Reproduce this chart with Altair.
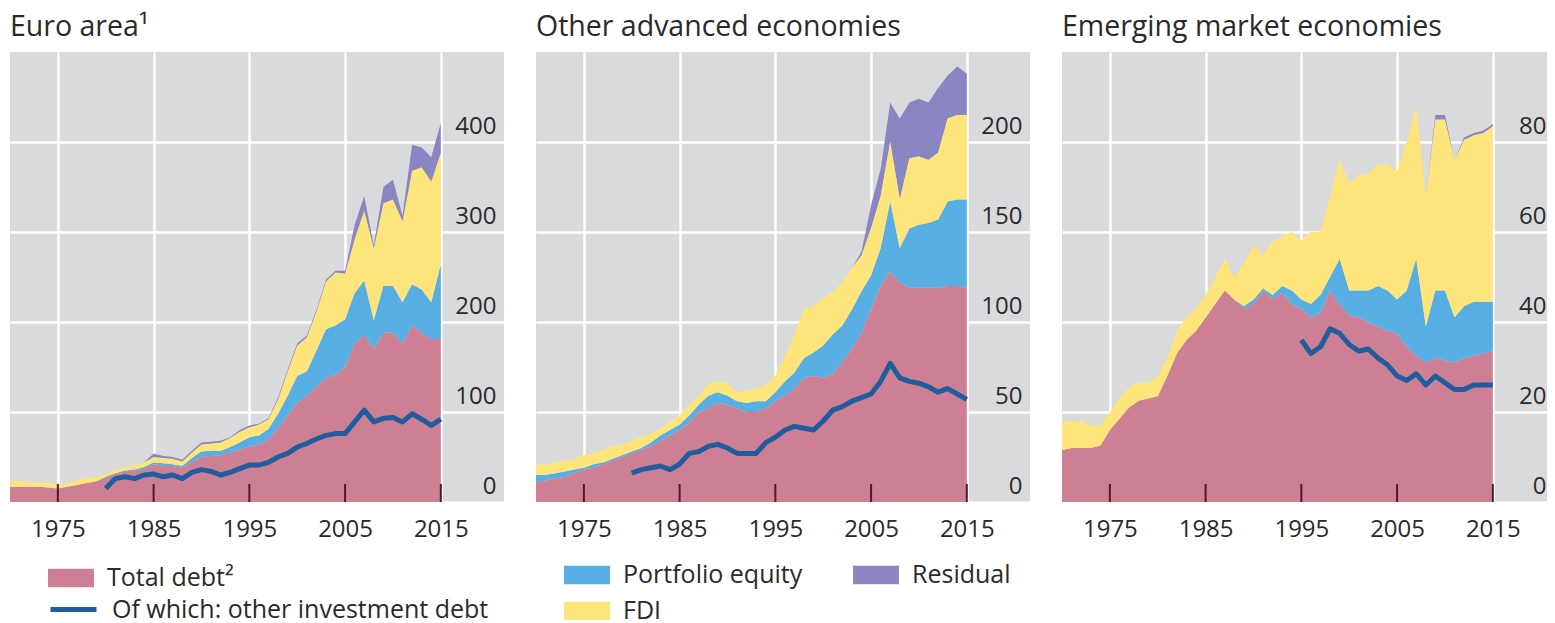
import altair as alt
import pandas as pd

years = list(range(1970, 2016))
categories = ["Total debt²", "Portfolio equity", "FDI", "Residual"]
line_label = "Of which: other investment debt"
area_colors = {"Total debt²": "#CD7F93", "Portfolio equity": "#56AEE2", "FDI": "#FDE57B",
               "Residual": "#8A86C4"}
line_color = "#1F5D9F"
titles = ["Euro area¹", "Other advanced economies", "Emerging market economies"]
x_ticks = [1975, 1985, 1995, 2005, 2015]

# Euro area
debt_ea = [17,17,17,17,16,15,17,19,21,23,27,31,34,35,37,42,40,40,38,44,50,51,52,55,58,62,64,70,82,96,
           110,118,128,138,141,150,176,186,170,188,188,176,196,188,181,181]
pe_ea = [0,0,0,0,0,0,0,0,0,0,1,1,1,1,2,2,3,2,2,5,6,6,5,6,8,10,10,11,16,22,30,27,40,54,55,53,56,60,32,52,
         52,46,46,48,41,83]
fdi_ea = [6,6,5,5,5,4,4,5,5,5,3,4,4,5,5,6,6,6,5,6,8,8,9,10,12,11,12,11,16,27,34,38,43,53,59,51,60,78,80,92,
          96,90,126,136,134,124]
res_ea = [0,0,0,0,0,0,0,0,0,0,0,0,0,0,0,4,2,2,2,2,2,2,2,1,2,2,1,1,2,2,2,2,2,2,2,3,16,16,3,18,22,6,29,22,27,33]
oid_ea = [None]*10 + [15,26,28,26,30,31,28,30,26,33,36,34,30,33,37,41,41,44,50,54,61,65,70,74,76,76,89,102,
                      89,93,94,89,98,92,85,92]

# Other advanced economies
debt_oa = [11,12,13,14,16,18,19,21,23,25,27,29,31,34,37,40,44,50,52,55,54,52,50,50,52,56,59,63,69,70,
           69,71,78,85,94,107,120,128,122,119,119,119,119,120,120,119]
pe_oa = [4,3,3,3,2,1,2,1,1,1,1,1,2,3,3,3,4,4,7,6,5,4,5,6,4,5,8,9,11,13,18,22,20,22,23,19,21,39,19,33,
         35,36,38,47,48,49]
fdi_oa = [6,6,6,6,6,7,6,7,7,6,6,6,5,4,5,5,6,5,7,6,7,5,7,7,9,9,14,21,27,26,26,24,24,23,20,26,29,33,27,39,
          38,35,37,46,47,47]
res_oa = [0]*34 + [2,13,15,22,45,31,32,32,36,24,27,23]
oid_oa = [None]*10 + [16,18,19,20,18,21,27,28,31,32,30,27,27,27,33,36,40,42,41,40,45,51,53,56,58,60,67,77,
                      69,67,66,64,61,63,60,57]

# Emerging market economies
debt_em = [11.5,12,12,12,12.5,16,18.5,21,22.5,23,23.5,28,33,36,38,41,44,47,45,43,44,47,45,46.5,44,43,41,42,
           47,44,41.5,41,40,39,38,37.5,34.5,32.5,31,32,31.5,31,32,32.5,33,33.5]
pe_em = [0]*19 + [0.5,1,0.5,1,1.5,3,2,3,4,3,10,5.5,6,7,9,9,7.5,12.5,21.5,8,15,15.5,10,11.5,12,11.5,11]
fdi_em = [6.5,6,6,5,4.5,4,4.5,4.5,4,3.5,4.5,4,5,5,5,5,6,7,5,9.5,12,7.5,12,11,13,13,16,14,18,22,24,25.5,26,
          27,28,28.5,33,34,29,38,38,35,37,37,37.5,39]
res_em = [0]*39 + [1,1,0,0.5,0.5,0.5,0.5]
oid_em = [None]*25 + [36,33,34.5,38.5,37.5,35,33.5,34,32,30.5,28,27,28.5,26,28,26.5,25,25,26,26,26]

FONT = "Open Sans"
TEXT = "#2a2a2a"
PLOT_H = 450
TICK_LEN = 18


def area_frame(parts, legend_order):
    values = dict(zip(categories, parts))
    rows = []
    for name in legend_order:
        for yr, v in zip(years, values[name]):
            rows.append({"year": yr, "series": name, "value": v, "ord": categories.index(name)})
    return pd.DataFrame(rows)


def line_frame(vals):
    df = pd.DataFrame({"year": years, "value": vals, "series": line_label})
    return df.dropna()


def panel(title, parts, oid, ymax, yticks, width, xmax, legend_order, fill_legend, stroke_legend,
          label_pad):
    xs = alt.Scale(domain=[1970, xmax], nice=False, zero=False)
    ys = alt.Scale(domain=[0, ymax], nice=False, zero=True)
    x_axis = alt.Axis(values=x_ticks, orient="bottom", grid=True, gridColor="white", gridWidth=2.5,
                      ticks=False, domain=False, format="d", labelFontSize=24, labelFont=FONT,
                      labelColor=TEXT, labelPadding=15, title=None, zindex=0)
    y_axis = alt.Axis(orient="right", values=yticks, grid=True, gridColor="white", gridWidth=2.5,
                      ticks=False, domain=False, labelAlign="right", labelPadding=label_pad,
                      labelOffset=-16, labelFontSize=24, labelFont=FONT, labelColor=TEXT,
                      title=None, zindex=0)
    area = alt.Chart(area_frame(parts, legend_order)).mark_area(opacity=1, strokeWidth=0).encode(
        x=alt.X("year:Q", scale=xs, axis=x_axis),
        y=alt.Y("value:Q", stack="zero", scale=ys, axis=y_axis),
        fill=alt.Fill("series:N",
                      scale=alt.Scale(domain=legend_order,
                                      range=[area_colors[c] for c in legend_order]),
                      legend=fill_legend),
        order=alt.Order("ord:Q", sort="ascending"),
    )
    line = alt.Chart(line_frame(oid)).mark_line(strokeWidth=5, strokeJoin="round").encode(
        x=alt.X("year:Q", scale=xs, axis=x_axis),
        y=alt.Y("value:Q", scale=ys, axis=y_axis),
        stroke=alt.Stroke("series:N", scale=alt.Scale(domain=[line_label], range=[line_color]),
                          legend=stroke_legend),
    )
    ticks = alt.Chart(pd.DataFrame({"year": x_ticks})).mark_rule(
        color="#4E1B2B", strokeWidth=2
    ).encode(
        x=alt.X("year:Q", scale=xs, axis=x_axis),
        y=alt.value(PLOT_H - TICK_LEN),
        y2=alt.value(PLOT_H),
    )
    return alt.layer(area, line, ticks).properties(
        width=width, height=PLOT_H,
        title=alt.TitleParams(title, anchor="start", fontSize=28.5, font=FONT, fontWeight="normal",
                              color=TEXT, baseline="bottom", offset=-18),
    )


rect_sym = "M-1,-0.4H1V0.4H-1Z"
leg_common = dict(orient="none", title=None, labelFontSize=25, labelFont=FONT, labelColor=TEXT,
                  labelLimit=600, symbolSize=2116, labelOffset=13, padding=0)

fill_leg_1 = alt.Legend(values=["Total debt²"], legendX=38, legendY=503, symbolType=rect_sym,
                        symbolStrokeWidth=0, **leg_common)
stroke_leg_1 = alt.Legend(legendX=38, legendY=532, symbolType="stroke", symbolStrokeWidth=5,
                          **leg_common)
fill_leg_2 = alt.Legend(values=["Portfolio equity", "FDI", "Residual"], columns=2, columnPadding=50,
                        rowPadding=-21, legendX=28, legendY=500, symbolType=rect_sym,
                        symbolStrokeWidth=0, **leg_common)

order_std = ["Total debt²", "Portfolio equity", "FDI", "Residual"]
order_p2 = ["Total debt²", "Portfolio equity", "Residual", "FDI"]

W = 494
px_per_year = W / 51.6
p1 = panel(titles[0], [debt_ea, pe_ea, fdi_ea, res_ea], oid_ea, 500, [0, 100, 200, 300, 400],
           W, 2021.6, order_std, fill_leg_1, stroke_leg_1, -8)
p2 = panel(titles[1], [debt_oa, pe_oa, fdi_oa, res_oa], oid_oa, 250, [0, 50, 100, 150, 200],
           W, 2021.6, order_p2, fill_leg_2, None, -8)
W3 = 485
p3 = panel(titles[2], [debt_em, pe_em, fdi_em, res_em], oid_em, 100, [0, 20, 40, 60, 80],
           W3, 1970 + W3 / px_per_year, order_std, None, None, -1)

chart = alt.hconcat(p1, p2, p3, spacing=32).resolve_scale(
    fill="independent", stroke="independent", x="independent", y="independent"
).resolve_legend(fill="independent", stroke="independent").properties(
    padding={"left": 2, "top": 4, "right": 0, "bottom": 0}
).configure_view(fill="#D9DADC", stroke=None)

chart.save("out.html", embed_options={"renderer": "svg", "actions": False})
